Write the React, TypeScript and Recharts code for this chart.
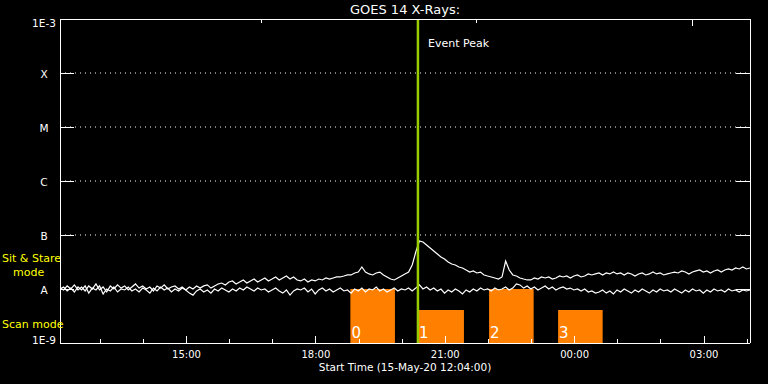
import React from "react";
import { LineChart, Line, XAxis, YAxis, ReferenceLine, ReferenceArea } from "recharts";

document.body.style.margin = "0";
document.body.style.background = "#000";

const FONT = "DejaVu Sans";
const TITLE = "GOES 14 X-Rays:";
const X_LABEL = "Start Time (15-May-20 12:04:00)";

// minutes after 12:04, one sample every 5 minutes
const SAMPLE_MIN = 5;
const FLUX_UNIT = 1e-9;

// 1-8 A channel, in units of 1e-9 W/m^2
const longFlux = [
  10.4, 9.6, 11.4, 10.0, 11.9, 9.6, 10.9, 9.2, 11.4, 10.0,
  12.4, 9.6, 10.9, 8.8, 11.4, 10.0, 11.9, 10.4, 11.4, 9.6,
  10.9, 12.4, 10.4, 11.4, 10.0, 10.9, 9.2, 11.4, 10.4, 11.9,
  10.0, 10.9, 11.4, 10.0, 10.9, 9.6, 10.9, 10.0, 11.4, 10.4,
  11.4, 11.9, 10.4, 11.4, 12.4, 12.9, 11.9, 13.5, 14.1, 12.4,
  13.5, 14.7, 12.9, 14.1, 15.3, 13.5, 14.7, 16.0, 14.1, 15.3,
  16.7, 14.7, 16.0, 17.4, 15.3, 16.7, 14.7, 14.1, 15.3, 13.5,
  14.7, 14.1, 15.3, 14.7, 16.0, 15.3, 16.0, 16.7, 16.7, 17.4,
  18.2, 18.2, 19.8, 20.6, 25.6, 20.6, 19.0, 18.2, 19.8, 20.6,
  18.2, 16.7, 15.3, 14.7, 16.0, 17.4, 19.0, 20.6, 27.8, 48.4,
  77.4, 74.3, 65.3, 57.4, 50.5, 44.4, 39.2, 36.0, 31.7, 29.1,
  27.8, 25.6, 24.5, 22.5, 20.6, 21.6, 19.8, 20.6, 18.2, 17.4,
  16.7, 16.0, 15.3, 16.7, 33.0, 22.5, 18.2, 17.4, 16.0, 15.3,
  14.7, 14.7, 16.0, 15.3, 16.7, 16.0, 16.7, 15.3, 16.0, 17.4,
  16.7, 17.4, 16.0, 17.4, 18.2, 16.7, 17.4, 19.0, 18.2, 19.0,
  19.8, 18.2, 19.8, 19.0, 20.6, 19.0, 19.8, 18.2, 19.8, 19.0,
  17.4, 19.0, 19.8, 18.2, 19.0, 20.6, 19.0, 19.8, 18.2, 19.0,
  19.8, 20.6, 19.8, 21.6, 20.6, 19.0, 20.6, 21.6, 22.5, 20.6,
  21.6, 19.8, 21.6, 22.5, 20.6, 22.5, 23.5, 22.5, 24.5, 23.5,
  25.6, 23.5, 24.5,
];

// 0.5-4 A channel, same units
const shortFlux = [
  10.0, 10.9, 9.2, 10.4, 8.8, 10.9, 9.6, 11.4, 8.4, 10.4,
  9.6, 11.4, 8.1, 10.0, 9.2, 10.9, 8.8, 10.0, 9.6, 10.9,
  9.2, 10.0, 8.8, 10.4, 9.6, 8.4, 10.4, 9.2, 10.9, 9.6,
  10.4, 8.8, 10.0, 9.2, 10.4, 9.6, 8.4, 7.7, 9.2, 10.0,
  8.8, 9.6, 8.4, 10.0, 9.2, 10.4, 9.6, 8.8, 10.0, 9.2,
  10.4, 9.6, 10.9, 10.0, 9.2, 10.4, 9.6, 10.0, 8.8, 9.6,
  10.4, 9.2, 8.4, 9.6, 7.7, 9.2, 10.0, 9.6, 10.4, 8.8,
  10.0, 8.1, 9.6, 10.4, 9.2, 10.0, 8.8, 9.6, 10.4, 9.2,
  9.6, 8.4, 10.0, 9.2, 10.4, 8.8, 10.0, 9.6, 10.9, 9.2,
  10.0, 8.8, 9.6, 10.4, 9.2, 10.0, 9.6, 10.4, 9.2, 10.4,
  11.9, 10.0, 10.9, 9.6, 10.4, 9.2, 10.0, 8.4, 9.6, 8.8,
  10.0, 9.2, 8.1, 9.6, 8.8, 10.0, 9.2, 10.4, 9.6, 10.0,
  9.2, 10.4, 9.6, 10.0, 10.9, 9.6, 10.4, 12.4, 11.9, 10.4,
  11.4, 10.0, 10.9, 9.6, 10.4, 11.4, 10.0, 10.9, 9.6, 10.4,
  10.9, 10.0, 10.4, 9.6, 10.0, 9.2, 10.0, 8.8, 9.2, 8.4,
  8.8, 9.6, 8.4, 9.2, 8.1, 9.6, 8.8, 10.0, 9.2, 8.4,
  9.6, 8.8, 10.0, 9.2, 8.4, 9.6, 8.8, 10.0, 9.2, 9.6,
  8.8, 10.0, 9.2, 8.4, 9.6, 8.8, 10.0, 9.2, 9.6, 8.4,
  9.6, 8.8, 10.0, 9.2, 9.6, 8.8, 10.0, 9.2, 9.6, 8.8,
  9.6, 9.2, 9.6,
];

// hourly ticks (minutes after start), 13:00 .. 04:00
const hourTicks = [56, 116, 176, 236, 296, 356, 416, 476, 536, 596, 656, 716, 776, 836, 896, 956];
const majorTicks = [176, 356, 536, 716, 896];
const majorLabels = ["15:00", "18:00", "21:00", "00:00", "03:00"];

const levelTicks = [1e-9, 1e-8, 1e-7, 1e-6, 1e-5, 1e-4, 1e-3];
const levelLabels = ["1E-9", "A", "B", "C", "M", "X", "1E-3"];
const gridLevels = [1e-7, 1e-6, 1e-5, 1e-4];

// scan windows
const scanStart = [404, 498, 597, 693];
const scanEnd = [466, 562, 659, 755];
const scanTop = [1e-8, 4.1e-9, 1e-8, 4.1e-9];
const scanNames = ["0", "1", "2", "3"];
const PEAK_TIME = 498;

const data = longFlux.map((v, i) => ({
  t: i * SAMPLE_MIN,
  long: v * FLUX_UNIT,
  short: shortFlux[i] * FLUX_UNIT,
}));

const LeftTick = (p: any) => {
  const { x, y, index } = p;
  const last = index === levelTicks.length - 1;
  const dy = index === 0 ? 1 : last ? 8 : 4.5;
  return (
    <g>
      <line x1={x} x2={x + 14} y1={y} y2={y} stroke="#fff" shapeRendering="crispEdges" />
      <text x={x - 16} y={y + dy} textAnchor="middle" fill="#fff" fontSize={10.5} fontFamily={FONT}>
        {levelLabels[index]}
      </text>
    </g>
  );
};

const RightTick = (p: any) => (
  <line x1={p.x - 14} x2={p.x} y1={p.y} y2={p.y} stroke="#fff" shapeRendering="crispEdges" />
);

const BottomTick = (p: any) => {
  const { x, y, payload } = p;
  const k = majorTicks.indexOf(payload.value);
  return (
    <g>
      <line x1={x} x2={x} y1={y} y2={y - (k >= 0 ? 7 : 4)} stroke="#fff" shapeRendering="crispEdges" />
      {k >= 0 && (
        <text x={x} y={y + 15} textAnchor="middle" fill="#fff" fontSize={10} fontFamily={FONT}>
          {majorLabels[k]}
        </text>
      )}
    </g>
  );
};

const TopTick = (p: any) => {
  const { x, y, payload } = p;
  const major = majorTicks.includes(payload.value);
  return <line x1={x} x2={x} y1={y} y2={y + (major ? 7 : 4)} stroke="#fff" shapeRendering="crispEdges" />;
};

const axisLine = { stroke: "#fff", strokeWidth: 1, shapeRendering: "crispEdges" };

export default function App() {
  return (
    <div style={{ position: "relative", width: 768, height: 384, background: "#000" }}>
      <LineChart width={768} height={384} data={data} margin={{ top: 0, right: 0, bottom: 0, left: 0 }}>
        <XAxis
          dataKey="t"
          type="number"
          domain={[0, 960]}
          allowDataOverflow
          ticks={hourTicks}
          interval={0}
          height={41}
          tickSize={0}
          tickMargin={0}
          tickLine={false}
          axisLine={axisLine}
          tick={<BottomTick />}
        />
        <XAxis
          xAxisId="top"
          orientation="top"
          type="number"
          domain={[0, 960]}
          allowDataOverflow
          ticks={hourTicks}
          interval={0}
          height={19}
          tickSize={0}
          tickMargin={0}
          tickLine={false}
          axisLine={axisLine}
          tick={<TopTick />}
        />
        <YAxis
          type="number"
          scale="log"
          domain={[1e-9, 1e-3]}
          allowDataOverflow
          ticks={levelTicks}
          interval={0}
          width={60}
          tickSize={0}
          tickMargin={0}
          tickLine={false}
          axisLine={axisLine}
          tick={<LeftTick />}
        />
        <YAxis
          yAxisId="right"
          orientation="right"
          type="number"
          scale="log"
          domain={[1e-9, 1e-3]}
          allowDataOverflow
          ticks={levelTicks}
          interval={0}
          width={18}
          tickSize={0}
          tickMargin={0}
          tickLine={false}
          axisLine={axisLine}
          tick={<RightTick />}
        />
        {scanStart.map((s, i) => (
          <ReferenceArea
            key={"scan" + i}
            x1={s}
            x2={scanEnd[i]}
            y1={1e-9}
            y2={scanTop[i]}
            fill="#ff8000"
            fillOpacity={1}
            stroke="none"
            label={(lp: any) => {
              const vb = lp.viewBox;
              return (
                <text x={vb.x + 1} y={vb.y + vb.height - 5} fill="#fff" fontSize={15} fontFamily={FONT}>
                  {scanNames[i]}
                </text>
              );
            }}
          />
        ))}
        {gridLevels.map((g) => (
          <ReferenceLine key={"g" + g} y={g} stroke="#fff" strokeDasharray="1 4" strokeWidth={1} />
        ))}
        <Line
          type="linear"
          dataKey="short"
          stroke="#fff"
          strokeWidth={1.2}
          dot={false}
          isAnimationActive={false}
        />
        <Line
          type="linear"
          dataKey="long"
          stroke="#fff"
          strokeWidth={1.2}
          dot={false}
          isAnimationActive={false}
        />
        <ReferenceLine
          x={PEAK_TIME}
          stroke="#99cc00"
          strokeWidth={2.5}
          label={(lp: any) => (
            <text x={lp.viewBox.x + 10} y={lp.viewBox.y + 28} fill="#fff" fontSize={11} fontFamily={FONT}>
              Event Peak
            </text>
          )}
        />
      </LineChart>
      <svg
        width={768}
        height={384}
        style={{ position: "absolute", left: 0, top: 0, pointerEvents: "none" }}
      >
        <text x={405} y={14} textAnchor="middle" fill="#fff" fontSize={13} fontFamily={FONT}>
          {TITLE}
        </text>
        <text x={405} y={371} textAnchor="middle" fill="#fff" fontSize={10.5} fontFamily={FONT}>
          {X_LABEL}
        </text>
        <text x={2} y={262} fill="#ffff00" fontSize={11} fontFamily={FONT}>
          Sit &amp; Stare
        </text>
        <text x={13} y={276} fill="#ffff00" fontSize={11} fontFamily={FONT}>
          mode
        </text>
        <text x={2} y={328} fill="#ffff00" fontSize={11} fontFamily={FONT}>
          Scan mode
        </text>
      </svg>
    </div>
  );
}
